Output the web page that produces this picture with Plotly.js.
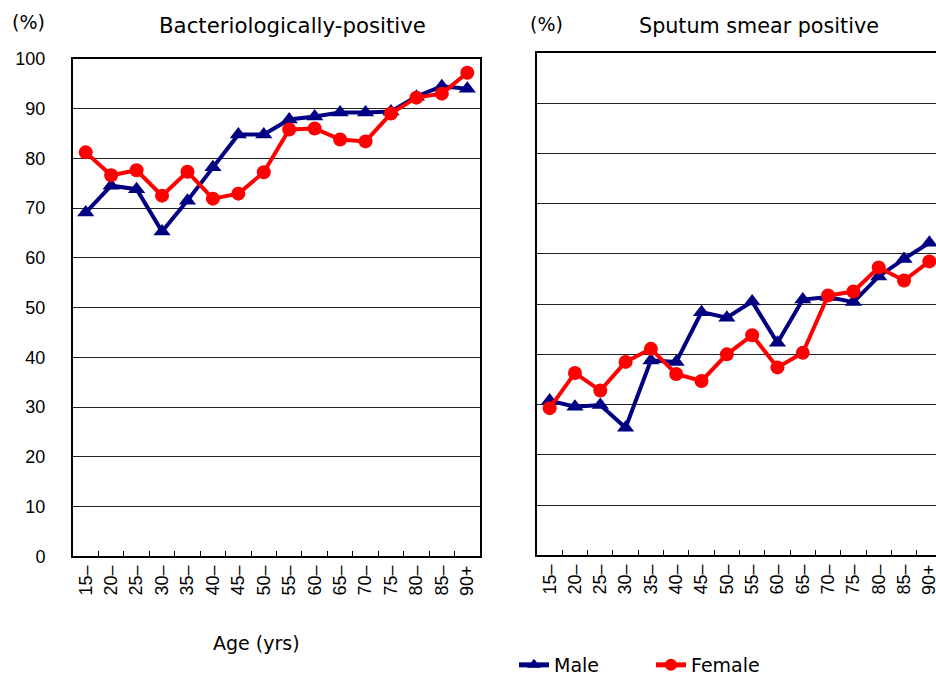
<!DOCTYPE html>
<html><head><meta charset="utf-8">
<script src="https://cdn.plot.ly/plotly-3.0.1.min.js"></script>
<style>html,body{margin:0;padding:0;overflow:hidden;background:#fff;width:936px;height:684px}</style>
</head><body><div id="chart" style="width:960px;height:684px"></div>
<script>
const ageGroups = ["15–","20–","25–","30–","35–","40–","45–","50–","55–","60–","65–","70–","75–","80–","85–","90+"];
const bactMale   = [69.1,74.5,73.8,65.3,71.5,78.2,84.8,84.8,87.8,88.4,89.2,89.2,89.4,92.4,94.5,94.0];
const bactFemale = [81.2,76.6,77.6,72.5,77.3,71.9,72.9,77.2,85.8,86.0,83.8,83.4,89.0,92.2,93.0,97.2];
const smearMale   = [30.8,29.6,29.9,25.4,38.8,38.5,48.4,47.3,50.5,42.3,50.9,51.4,50.4,55.5,59.0,62.2];
const smearFemale = [29.3,36.3,32.8,38.5,41.1,36.1,34.7,40.0,43.8,37.4,40.3,51.7,52.5,57.3,54.7,58.5];
const seriesNames = ["Male","Female"];
const yTicks = [0,10,20,30,40,50,60,70,80,90,100];

const W = 960, H = 684;
const navy = "#000080", red = "#FF0000";
const maleStyle = {line:{color:navy,width:4}, marker:{symbol:"triangle-up",size:15,color:navy}};
const femaleStyle = {line:{color:red,width:4}, marker:{symbol:"circle",size:14,color:red}};

const traces = [
  Object.assign({x:ageGroups,y:bactMale,name:seriesNames[0],type:"scatter",mode:"lines+markers",xaxis:"x",yaxis:"y",showlegend:true,legendrank:1},maleStyle),
  Object.assign({x:ageGroups,y:bactFemale,name:seriesNames[1],type:"scatter",mode:"lines+markers",xaxis:"x",yaxis:"y",showlegend:true,legendrank:2},femaleStyle),
  Object.assign({x:ageGroups,y:smearMale,name:seriesNames[0],type:"scatter",mode:"lines+markers",xaxis:"x2",yaxis:"y2",showlegend:false},maleStyle),
  Object.assign({x:ageGroups,y:smearFemale,name:seriesNames[1],type:"scatter",mode:"lines+markers",xaxis:"x2",yaxis:"y2",showlegend:false},femaleStyle)
];

const tickFont = {family:"Liberation Sans, Arial, sans-serif",size:18,color:"#000"};
const xBase = {type:"category",range:[-0.5,15.5],showline:true,linecolor:"#000",linewidth:2,mirror:true,
  ticks:"inside",tickson:"boundaries",ticklen:5,tickcolor:"#000",tickwidth:1,tickangle:-90,
  tickfont:tickFont,showgrid:false,zeroline:false,fixedrange:true};
const yBase = {range:[0,100],tickvals:yTicks,showline:true,linecolor:"#000",linewidth:2,mirror:true,
  showgrid:true,gridcolor:"#222",gridwidth:1,zeroline:false,ticks:"",tickfont:tickFont,fixedrange:true};

const txt = "DejaVu Sans, sans-serif";
const layout = {
  width:W,height:H,margin:{l:0,r:0,t:0,b:0},paper_bgcolor:"#fff",plot_bgcolor:"#fff",
  xaxis:Object.assign({},xBase,{domain:[73/W,480/W],anchor:"y"}),
  yaxis:Object.assign({},yBase,{domain:[(H-558)/H,(H-59)/H],anchor:"x",ticklabelstandoff:22}),
  xaxis2:Object.assign({},xBase,{domain:[537/W,942/W],anchor:"y2"}),
  yaxis2:Object.assign({},yBase,{domain:[(H-557)/H,(H-53)/H],anchor:"x2",showticklabels:false}),
  showlegend:true,
  legend:{orientation:"h",x:514/W,y:(H-667)/H,xanchor:"left",yanchor:"middle",itemsizing:"constant",
    font:{family:txt,size:19,color:"#000"},entrywidth:92,entrywidthmode:"pixels",tracegroupgap:0,bgcolor:"rgba(0,0,0,0)"},
  annotations:[
    {text:"(%)",x:28/W,y:(H-22)/H,xref:"paper",yref:"paper",showarrow:false,font:{family:txt,size:19,color:"#000"},xanchor:"center",yanchor:"middle"},
    {text:"Bacteriologically-positive",x:292/W,y:(H-26)/H,xref:"paper",yref:"paper",showarrow:false,font:{family:txt,size:21.3,color:"#000"},xanchor:"center",yanchor:"middle"},
    {text:"(%)",x:546/W,y:(H-24)/H,xref:"paper",yref:"paper",showarrow:false,font:{family:txt,size:19,color:"#000"},xanchor:"center",yanchor:"middle"},
    {text:"Sputum smear positive",x:759/W,y:(H-26)/H,xref:"paper",yref:"paper",showarrow:false,font:{family:txt,size:20.7,color:"#000"},xanchor:"center",yanchor:"middle"},
    {text:"Age (yrs)",x:256/W,y:(H-645)/H,xref:"paper",yref:"paper",showarrow:false,font:{family:txt,size:19,color:"#000"},xanchor:"center",yanchor:"middle"}
  ]
};
Plotly.newPlot("chart",traces,layout,{displayModeBar:false,staticPlot:true});
</script></body></html>
